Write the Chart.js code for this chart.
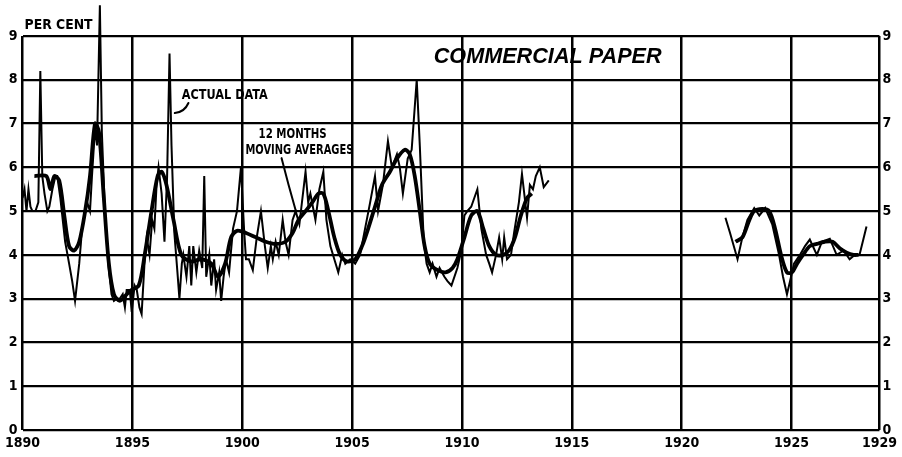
<!DOCTYPE html>
<html><head><meta charset="utf-8">
<script src="https://cdn.jsdelivr.net/npm/chart.js@4"></script>
<style>html,body{margin:0;padding:0;background:#fff}canvas{display:block}</style>
</head><body>
<canvas id="c" width="902" height="457"></canvas>
<script>
// ---- tick labels ----
const xTickYears = [1890,1895,1900,1905,1910,1915,1920,1925,1929];
const yTickValues = [0,1,2,3,4,5,6,7,8,9];

// ---- actual data (monthly commercial paper rate, per cent) ----
const actualYearsA = [1890.00,1890.09,1890.18,1890.27,1890.36,1890.45,1890.59,1890.72,1890.81,1890.90,1891.00,1891.13,1891.22,1891.36,1891.50,1891.58,1891.72,1891.94,1892.12,1892.26,1892.39,1892.58,1892.71,1892.94,1893.07,1893.16,1893.30,1893.39,1893.52,1893.61,1893.75,1893.90,1894.05,1894.16,1894.29,1894.43,1894.56,1894.66,1894.74,1894.88,1894.97,1895.10,1895.20,1895.32,1895.42,1895.55,1895.65,1895.78,1895.90,1896.00,1896.10,1896.19,1896.33,1896.46,1896.58,1896.69,1896.78,1896.91,1897.05,1897.14,1897.25,1897.32,1897.46,1897.59,1897.68,1897.77,1897.91,1898.04,1898.18,1898.27,1898.36,1898.50,1898.59,1898.72,1898.81,1898.95,1899.04,1899.15,1899.26,1899.40,1899.58,1899.76,1899.94,1900.08,1900.17,1900.30,1900.48,1900.66,1900.85,1901.03,1901.16,1901.30,1901.39,1901.52,1901.66,1901.84,1901.97,1902.11,1902.29,1902.43,1902.60,1902.88,1903.00,1903.10,1903.33,1903.51,1903.69,1903.83,1904.01,1904.19,1904.37,1904.55,1904.69,1904.91,1905.14,1905.36,1905.59,1905.82,1906.04,1906.18,1906.40,1906.63,1906.81,1907.04,1907.17,1907.31,1907.53,1907.71,1907.94,1908.08,1908.26,1908.39,1908.53,1908.66,1908.84,1908.98,1909.20,1909.34,1909.52,1909.79,1909.97,1910.11,1910.24,1910.42,1910.56,1910.70,1910.88,1911.10,1911.24,1911.37,1911.55,1911.69,1911.83,1911.92,1912.05,1912.23,1912.37,1912.59,1912.73,1912.96,1913.09,1913.23,1913.36,1913.54,1913.72,1913.95];
const actualRatesA = [5.3,5.5,5.0,5.5,5.1,5.0,5.0,5.2,8.2,5.8,5.4,5.0,5.1,5.5,5.8,5.8,5.3,4.3,3.8,3.4,2.95,3.8,4.6,5.2,5.0,5.8,6.9,6.5,9.7,6.8,5.0,3.8,3.1,2.95,3.0,3.0,3.1,2.8,3.2,3.2,2.7,3.3,3.2,2.8,2.65,3.8,4.4,4.0,4.8,4.6,5.6,6.0,5.4,4.3,5.8,8.6,6.5,4.5,3.6,3.0,3.8,4.0,3.5,4.2,3.3,4.2,3.6,4.1,3.7,5.8,3.5,4.0,3.3,3.9,3.2,3.6,2.95,3.5,3.9,3.6,4.6,5.0,6.0,4.6,3.9,3.9,3.65,4.4,5.0,4.2,3.7,4.2,3.9,4.3,4.0,4.8,4.3,4.0,4.8,5.0,4.7,5.9,5.2,5.4,4.8,5.5,5.9,4.8,4.2,3.9,3.6,4.0,3.8,3.9,3.8,4.0,4.6,5.2,5.8,5.0,5.6,6.6,6.0,6.3,6.0,5.4,6.2,6.4,8.0,6.5,4.3,3.8,3.6,3.8,3.5,3.7,3.5,3.4,3.3,3.7,4.1,4.9,5.0,5.1,5.3,5.5,4.6,4.0,3.8,3.6,4.0,4.4,3.9,4.4,3.9,4.0,4.5,5.2,5.85,4.85,5.6,5.5,5.8,6.0,5.55,5.7];
const actualYearsB = [1921.99,1922.20,1922.54,1922.76,1922.99,1923.30,1923.53,1923.80,1924.12,1924.43,1924.61,1924.79,1924.93,1925.11,1925.38,1925.61,1925.83,1926.15,1926.38,1926.74,1927.05,1927.37,1927.64,1927.87,1928.09,1928.41];
const actualRatesB = [4.85,4.5,3.9,4.4,4.8,5.07,4.9,5.07,4.7,4.0,3.5,3.1,3.4,3.8,4.0,4.2,4.35,4.0,4.3,4.37,4.0,4.1,3.9,4.0,4.0,4.65];

// ---- 12 months moving averages ----
const avgYearsA = [1890.54,1891.08,1891.27,1891.45,1891.67,1891.90,1892.12,1892.35,1892.58,1892.85,1893.07,1893.30,1893.48,1893.70,1893.93,1894.16,1894.43,1894.74,1894.97,1895.29,1895.56,1895.87,1896.15,1896.33,1896.55,1896.87,1897.23,1897.68,1898.13,1898.59,1898.90,1899.22,1899.49,1899.76,1900.17,1900.62,1901.07,1901.52,1901.97,1902.29,1902.56,1902.88,1903.19,1903.47,1903.69,1903.92,1904.19,1904.46,1904.78,1905.14,1905.45,1905.73,1906.04,1906.36,1906.72,1907.04,1907.40,1907.62,1907.85,1908.08,1908.30,1908.53,1908.89,1909.25,1909.57,1909.79,1910.11,1910.42,1910.70,1910.97,1911.24,1911.55,1911.87,1912.14,1912.41,1912.68,1912.96,1913.18];
const avgRatesA = [5.8,5.8,5.5,5.8,5.7,4.9,4.2,4.1,4.3,5.0,5.8,7.0,6.8,5.3,3.8,3.1,2.95,3.1,3.2,3.3,4.0,5.0,5.8,5.9,5.6,4.8,4.0,3.85,3.9,3.8,3.5,3.8,4.4,4.55,4.5,4.4,4.3,4.25,4.3,4.5,4.8,5.0,5.2,5.4,5.4,5.0,4.4,4.0,3.85,3.9,4.2,4.6,5.1,5.6,5.9,6.2,6.4,6.3,5.8,5.0,4.2,3.8,3.65,3.6,3.7,3.9,4.4,4.9,5.0,4.6,4.2,4.0,4.0,4.1,4.4,4.9,5.3,5.4];
const avgYearsB = [1922.45,1922.76,1923.08,1923.30,1923.66,1923.98,1924.25,1924.52,1924.79,1925.02,1925.25,1925.52,1925.83,1926.15,1926.51,1926.87,1927.19,1927.51,1927.82,1928.05];
const avgRatesB = [4.3,4.4,4.8,5.0,5.05,5.0,4.6,4.0,3.6,3.6,3.8,4.0,4.2,4.25,4.3,4.3,4.15,4.05,4.0,4.0];

function joinSegments(ya, va, yb, vb) {
  const out = ya.map((t, i) => ({x: t, y: va[i]}));
  out.push({x: (ya[ya.length-1] + yb[0]) / 2, y: null});
  yb.forEach((t, i) => out.push({x: t, y: vb[i]}));
  return out;
}

const FONT_FAMILY = '"DejaVu Sans Condensed", "Liberation Sans Narrow", sans-serif';

function fitText(ctx, text, px, py, font, targetW, align) {
  ctx.save();
  ctx.font = font;
  const w = ctx.measureText(text).width;
  const sx = targetW / w;
  ctx.translate(px, py);
  ctx.scale(sx, 1);
  ctx.textAlign = align;
  ctx.textBaseline = 'middle';
  ctx.fillText(text, 0, 0);
  ctx.restore();
}

const whiteBg = {
  id: 'whiteBg',
  beforeDraw(chart) {
    const ctx = chart.ctx;
    ctx.save();
    ctx.fillStyle = '#fff';
    ctx.fillRect(0, 0, chart.width, chart.height);
    ctx.restore();
  }
};

const annotate = {
  id: 'annotate',
  afterDatasetsDraw(chart) {
    const {ctx, chartArea} = chart;
    const x = chart.scales.x, y = chart.scales.y;
    const P = (t, v) => [x.getPixelForValue(t), y.getPixelForValue(v)];
    ctx.save();
    ctx.fillStyle = '#000';
    ctx.strokeStyle = '#000';
    fitText(ctx, 'PER CENT', chartArea.left + 2, chartArea.top - 11, 'bold 14px ' + FONT_FAMILY, 68, 'left');
    let p = P(1913.9, 8.52);
    fitText(ctx, 'COMMERCIAL PAPER', p[0], p[1], 'italic bold 22px "Liberation Sans", Arial, sans-serif', 228, 'center');
    p = P(1897.25, 7.65);
    fitText(ctx, 'ACTUAL DATA', p[0], p[1], 'bold 14px ' + FONT_FAMILY, 86, 'left');
    p = P(1902.29, 6.76);
    fitText(ctx, '12 MONTHS', p[0], p[1], 'bold 14px ' + FONT_FAMILY, 68, 'center');
    p = P(1902.6, 6.39);
    fitText(ctx, 'MOVING AVERAGES', p[0], p[1], 'bold 14px ' + FONT_FAMILY, 108, 'center');
    // pointers
    ctx.lineWidth = 2;
    ctx.lineCap = 'round';
    let a = P(1897.55, 7.47), c = P(1897.37, 7.26), b = P(1896.93, 7.24);
    ctx.beginPath(); ctx.moveTo(a[0], a[1]); ctx.quadraticCurveTo(c[0], c[1], b[0], b[1]); ctx.stroke();
    a = P(1901.79, 6.21); c = P(1902.1, 5.6); b = P(1902.43, 5.02);
    ctx.beginPath(); ctx.moveTo(a[0], a[1]); ctx.quadraticCurveTo(c[0], c[1], b[0], b[1]); ctx.stroke();
    ctx.restore();
  }
};

const tickFont = {family: FONT_FAMILY, size: 14, weight: 'bold'};

new Chart(document.getElementById('c'), {
  type: 'line',
  data: {
    datasets: [
      {
        label: 'Actual data',
        data: joinSegments(actualYearsA, actualRatesA, actualYearsB, actualRatesB),
        borderColor: '#000',
        borderWidth: 2,
        pointRadius: 0,
        tension: 0,
        spanGaps: false,
        clip: false
      },
      {
        label: '12 months moving averages',
        data: joinSegments(avgYearsA, avgRatesA, avgYearsB, avgRatesB),
        borderColor: '#000',
        borderWidth: 3.8,
        pointRadius: 0,
        tension: 0.3,
        spanGaps: false,
        clip: false
      }
    ]
  },
  options: {
    responsive: false,
    animation: false,
    layout: {padding: {top: 36, left: 0, right: 0, bottom: 0}},
    plugins: {legend: {display: false}, tooltip: {enabled: false}},
    scales: {
      x: {
        type: 'linear', min: 1890, max: 1929,
        afterBuildTicks: s => { s.ticks = xTickYears.map(v => ({value: v})); },
        ticks: {font: tickFont, color: '#000', padding: 5, maxRotation: 0, autoSkip: false, callback: v => String(v)},
        grid: {color: '#000', lineWidth: 2.5, drawTicks: false},
        border: {display: false},
        afterFit: s => { s.height = 27; }
      },
      y: {
        position: 'left', min: 0, max: 9,
        afterBuildTicks: s => { s.ticks = yTickValues.map(v => ({value: v})); },
        ticks: {font: tickFont, color: '#000', padding: 5, callback: v => String(v)},
        grid: {color: '#000', lineWidth: 2.2, drawTicks: false},
        border: {display: false},
        afterFit: s => { s.width = 20; }
      },
      y2: {
        position: 'right', min: 0, max: 9,
        afterBuildTicks: s => { s.ticks = yTickValues.map(v => ({value: v})); },
        ticks: {font: tickFont, color: '#000', padding: 3, callback: v => String(v)},
        grid: {display: false, drawTicks: false},
        border: {display: false},
        afterFit: s => { s.width = 19; }
      }
    }
  },
  plugins: [whiteBg, annotate]
});
</script>
</body></html>
